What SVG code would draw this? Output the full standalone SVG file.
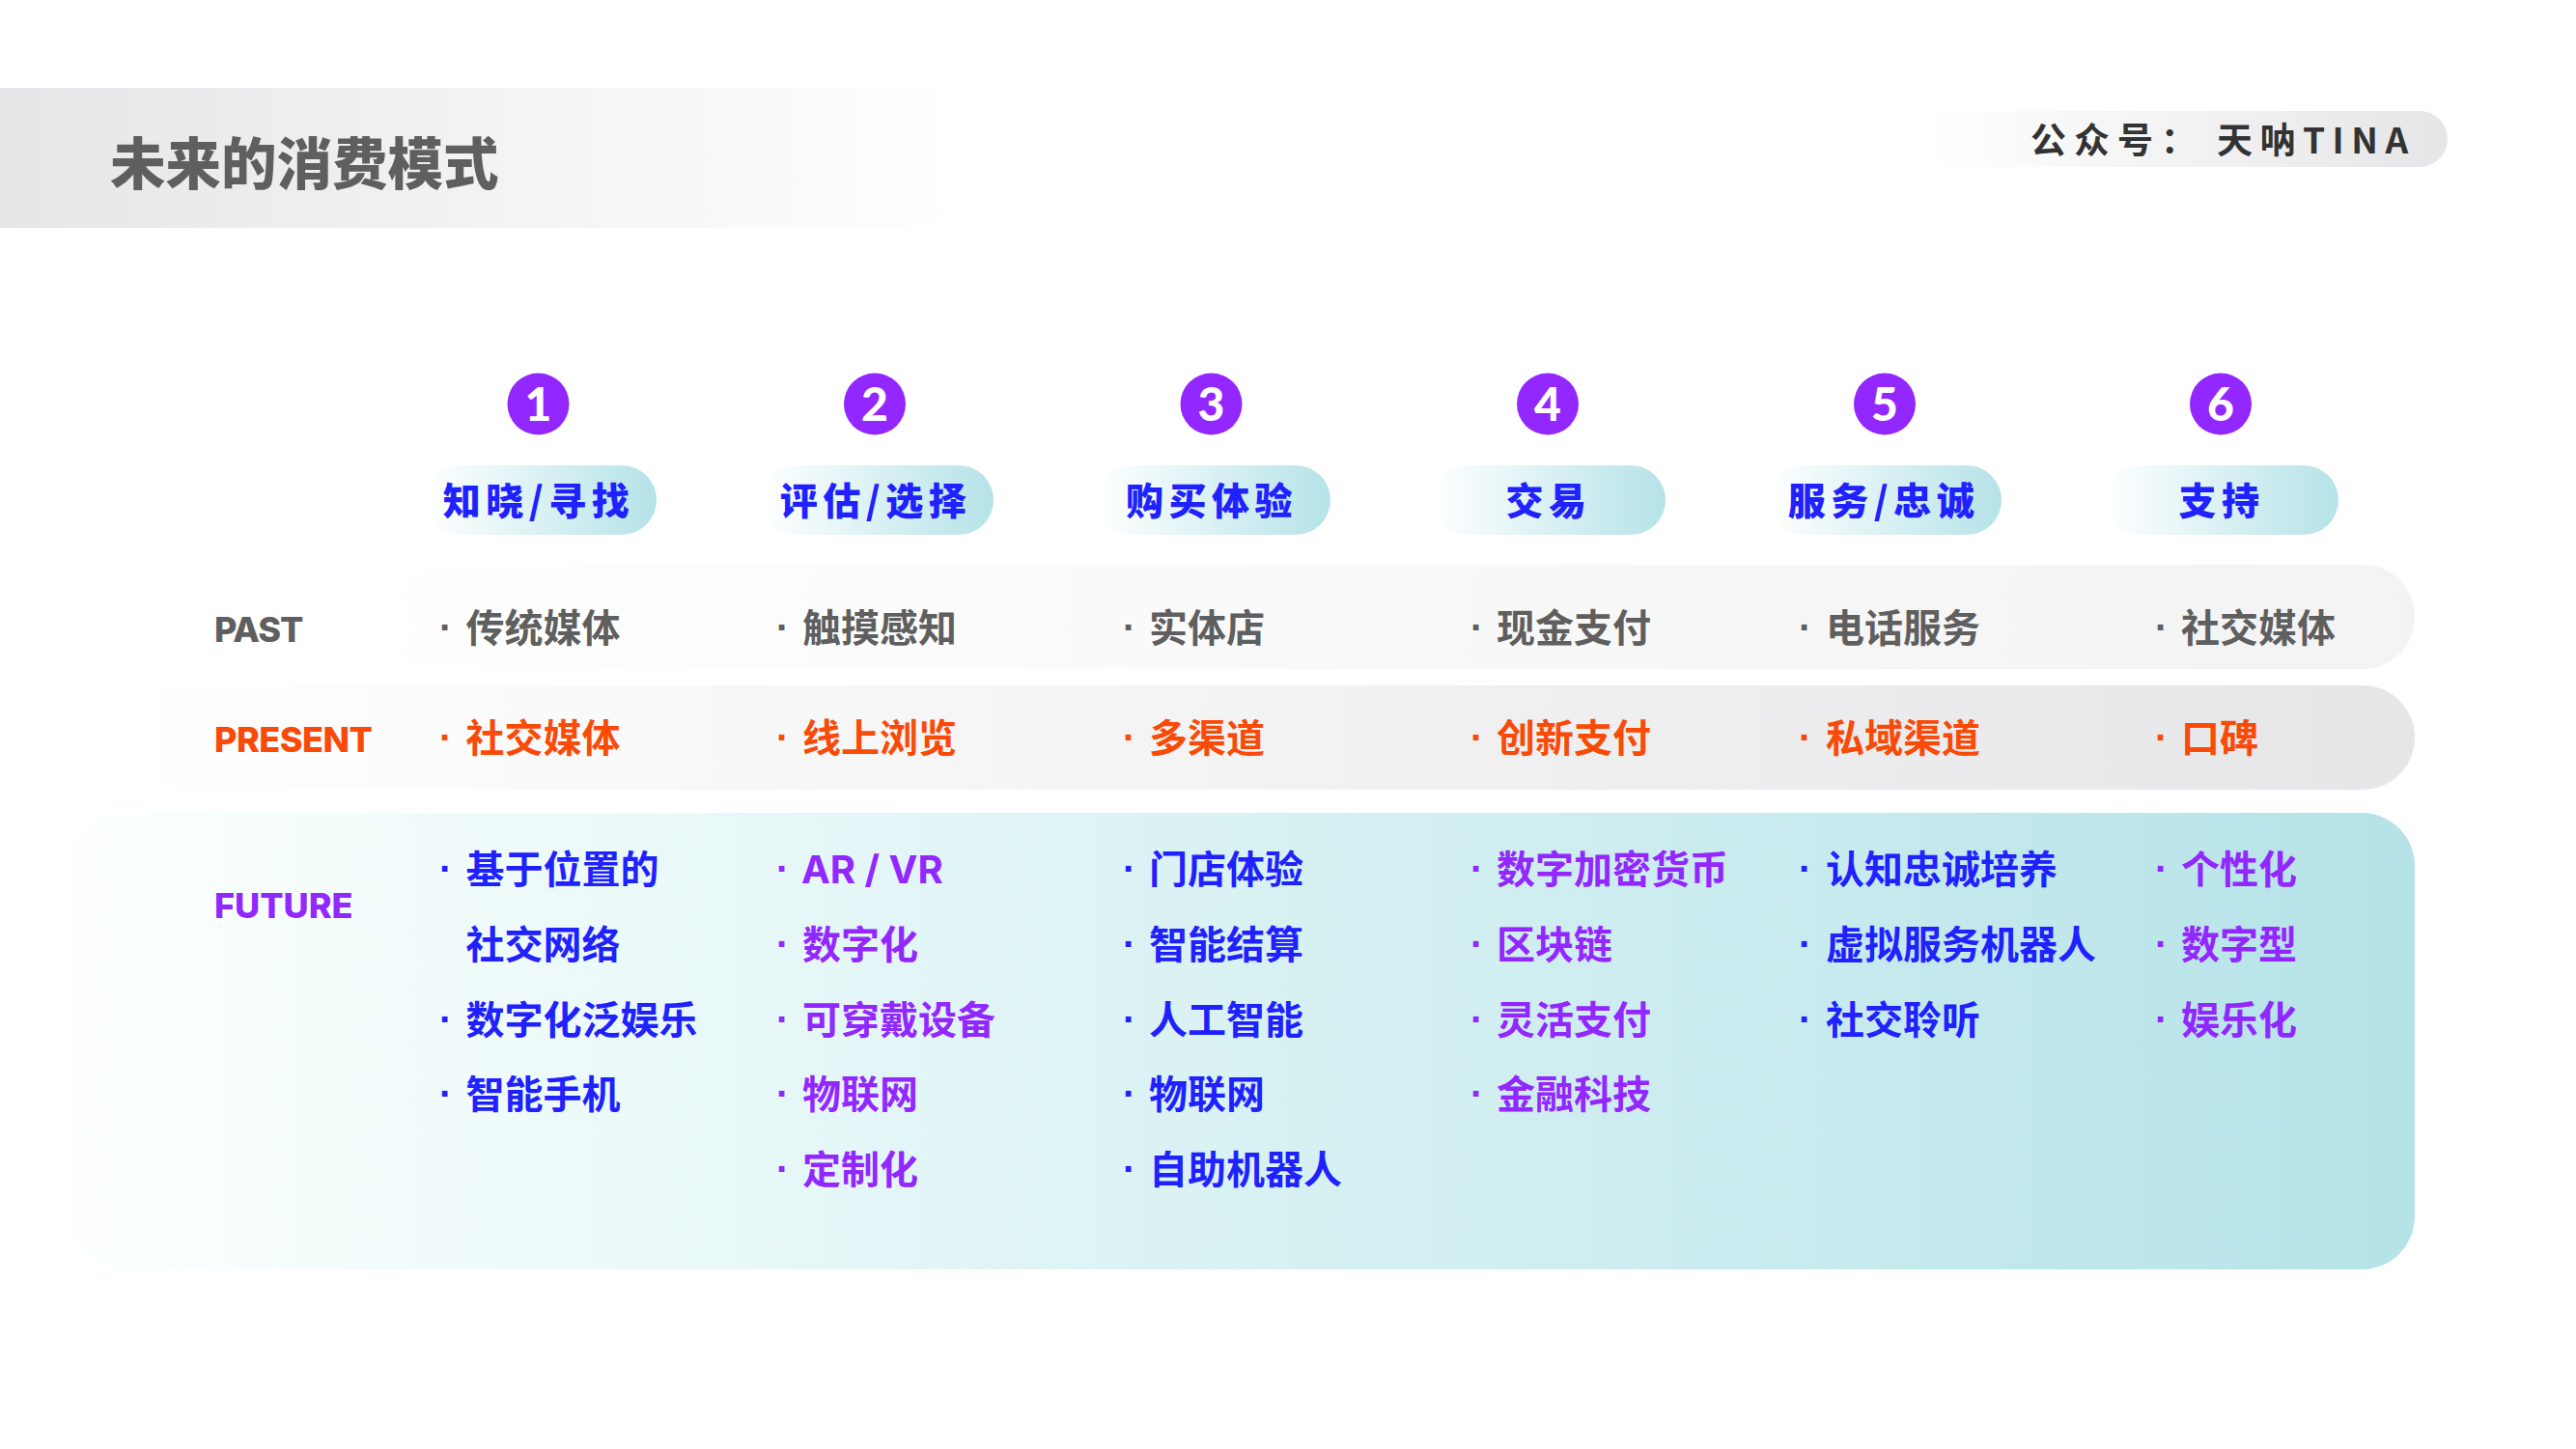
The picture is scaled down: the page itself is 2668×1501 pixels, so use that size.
<svg xmlns="http://www.w3.org/2000/svg" width="2668" height="1501" viewBox="0 0 2668 1501">
<style>
text{font-family:"Noto Sans CJK SC","Noto Sans",sans-serif;font-weight:700}
.t{font-size:40px}
.b{font-family:"Liberation Sans",sans-serif;font-size:40px}
.gray{fill:#5f5f5f}.or{fill:#fa4a08}.bl{fill:#1f22ff}.pu{fill:#9228ff}
.lab{font-family:"Inter","Liberation Sans",sans-serif;font-size:36px;font-weight:800}
.num{font-family:"Lato","Liberation Sans",sans-serif;font-size:48px;font-weight:900;fill:#fff;text-anchor:middle}
.pt{font-size:39px;font-weight:900;fill:#1f22ff;letter-spacing:5.500px;text-anchor:middle}
.c{fill:#9228ff}
.p{fill:url(#gp)}
.f{fill:url(#gf)}
</style>
<defs>
<linearGradient id="gt"><stop offset="0" stop-color="#e6e6e8"/><stop offset="1" stop-color="#ffffff"/></linearGradient>
<linearGradient id="gw"><stop offset="0" stop-color="#e6e6e8" stop-opacity="0"/><stop offset="1" stop-color="#e6e6e8"/></linearGradient>
<linearGradient id="gpast"><stop offset="0" stop-color="#f3f3f4" stop-opacity="0"/><stop offset="1" stop-color="#f3f3f4"/></linearGradient>
<linearGradient id="gp"><stop offset="0" stop-color="#b5e3e8" stop-opacity="0"/><stop offset="1" stop-color="#b5e3e8"/></linearGradient>
<linearGradient id="gf"><stop offset="0" stop-color="#fdffff"/><stop offset="0.2" stop-color="#eefafa"/><stop offset="1" stop-color="#b5e3e8"/></linearGradient>
</defs>
<g id="title"><rect x="0" y="91" width="1000" height="145" fill="url(#gt)"/><text x="114" y="191" font-size="57.500" class="gray" style="font-weight:900">未来的消费模式</text></g>
<g id="account"><rect x="1990" y="115" width="545" height="58" rx="29" fill="url(#gw)"/>
<text x="2103" y="159" font-size="37" letter-spacing="8" fill="#333">公众号：</text><text x="2296" y="159" font-size="37" letter-spacing="7.500" fill="#333">天呐TINA</text></g>
<g id="row-past-band"><rect x="300" y="585" width="2201" height="108" rx="54" fill="url(#gpast)"/></g>
<g id="row-present-band"><rect x="100" y="710" width="2401" height="108" rx="54" fill="url(#gw)"/></g>
<g id="row-future-band"><rect x="72" y="842" width="2429" height="473" rx="55" class="f"/></g>
<g id="connectors"></g>
<g id="col1">
<circle class="c" cx="557.500" cy="418.500" r="32"/><text class="num" x="557.500" y="436">1</text>
<rect class="p" x="440" y="482" width="240" height="72" rx="36"/><text class="pt" x="558" y="533">知晓/寻找</text>
<text class="b gray" x="455" y="664">·</text><text class="t gray" x="482.500" y="665">传统媒体</text>
<text class="b or" x="455" y="778">·</text><text class="t or" x="482.500" y="779">社交媒体</text>
<text class="b bl" x="455" y="914">·</text><text class="t bl" x="482.500" y="915">基于位置的</text>
<text class="t bl" x="482.500" y="993">社交网络</text>
<text class="b bl" x="455" y="1070">·</text><text class="t bl" x="482.500" y="1071">数字化泛娱乐</text>
<text class="b bl" x="455" y="1147">·</text><text class="t bl" x="482.500" y="1148">智能手机</text>
</g>
<g id="col2">
<circle class="c" cx="906" cy="418.500" r="32"/><text class="num" x="906" y="436">2</text>
<rect class="p" x="789" y="482" width="240" height="72" rx="36"/><text class="pt" x="907" y="533">评估/选择</text>
<text class="b gray" x="804" y="664">·</text><text class="t gray" x="831" y="665">触摸感知</text>
<text class="b or" x="804" y="778">·</text><text class="t or" x="831" y="779">线上浏览</text>
<text class="b pu" x="804" y="914">·</text><text class="t pu" x="830" y="915" style="font-family:Inter,'Liberation Sans',sans-serif">AR / VR</text>
<text class="b pu" x="804" y="992">·</text><text class="t pu" x="831" y="993">数字化</text>
<text class="b pu" x="804" y="1070">·</text><text class="t pu" x="831" y="1071">可穿戴设备</text>
<text class="b pu" x="804" y="1147">·</text><text class="t pu" x="831" y="1148">物联网</text>
<text class="b pu" x="804" y="1225">·</text><text class="t pu" x="831" y="1226">定制化</text>
</g>
<g id="col3">
<circle class="c" cx="1254.500" cy="418.500" r="32"/><text class="num" x="1254.500" y="436">3</text>
<rect class="p" x="1137" y="482" width="241" height="72" rx="36"/><text class="pt" x="1255" y="533">购买体验</text>
<text class="b gray" x="1163" y="664">·</text><text class="t gray" x="1190" y="665">实体店</text>
<text class="b or" x="1163" y="778">·</text><text class="t or" x="1190" y="779">多渠道</text>
<text class="b bl" x="1163" y="914">·</text><text class="t bl" x="1190" y="915">门店体验</text>
<text class="b bl" x="1163" y="992">·</text><text class="t bl" x="1190" y="993">智能结算</text>
<text class="b bl" x="1163" y="1070">·</text><text class="t bl" x="1190" y="1071">人工智能</text>
<text class="b bl" x="1163" y="1147">·</text><text class="t bl" x="1190" y="1148">物联网</text>
<text class="b bl" x="1163" y="1225">·</text><text class="t bl" x="1190" y="1226">自助机器人</text>
</g>
<g id="col4">
<circle class="c" cx="1603" cy="418.500" r="32"/><text class="num" x="1603" y="436">4</text>
<rect class="p" x="1484" y="482" width="241" height="72" rx="36"/><text class="pt" x="1604" y="533">交易</text>
<text class="b gray" x="1523" y="664">·</text><text class="t gray" x="1550" y="665">现金支付</text>
<text class="b or" x="1523" y="778">·</text><text class="t or" x="1550" y="779">创新支付</text>
<text class="b pu" x="1523" y="914">·</text><text class="t pu" x="1550" y="915">数字加密货币</text>
<text class="b pu" x="1523" y="992">·</text><text class="t pu" x="1550" y="993">区块链</text>
<text class="b pu" x="1523" y="1070">·</text><text class="t pu" x="1550" y="1071">灵活支付</text>
<text class="b pu" x="1523" y="1147">·</text><text class="t pu" x="1550" y="1148">金融科技</text>
</g>
<g id="col5">
<circle class="c" cx="1952" cy="418.500" r="32"/><text class="num" x="1952" y="436">5</text>
<rect class="p" x="1832" y="482" width="241" height="72" rx="36"/><text class="pt" x="1951" y="533">服务/忠诚</text>
<text class="b gray" x="1863" y="664">·</text><text class="t gray" x="1891" y="665">电话服务</text>
<text class="b or" x="1863" y="778">·</text><text class="t or" x="1891" y="779">私域渠道</text>
<text class="b bl" x="1863" y="914">·</text><text class="t bl" x="1891" y="915">认知忠诚培养</text>
<text class="b bl" x="1863" y="992">·</text><text class="t bl" x="1891" y="993">虚拟服务机器人</text>
<text class="b bl" x="1863" y="1070">·</text><text class="t bl" x="1891" y="1071">社交聆听</text>
</g>
<g id="col6">
<circle class="c" cx="2300" cy="418.500" r="32"/><text class="num" x="2300" y="436">6</text>
<rect class="p" x="2181" y="482" width="241" height="72" rx="36"/><text class="pt" x="2301" y="533">支持</text>
<text class="b gray" x="2232" y="664">·</text><text class="t gray" x="2259" y="665">社交媒体</text>
<text class="b or" x="2232" y="778">·</text><text class="t or" x="2259" y="779">口碑</text>
<text class="b pu" x="2232" y="914">·</text><text class="t pu" x="2259" y="915">个性化</text>
<text class="b pu" x="2232" y="992">·</text><text class="t pu" x="2259" y="993">数字型</text>
<text class="b pu" x="2232" y="1070">·</text><text class="t pu" x="2259" y="1071">娱乐化</text>
</g>
<g id="row-labels">
<text class="lab gray" x="222" y="665" letter-spacing="-1">PAST</text>
<text class="lab or" x="222" y="779" letter-spacing="-0.500">PRESENT</text>
<text class="lab pu" x="222" y="951">FUTURE</text>
</g>
</svg>
